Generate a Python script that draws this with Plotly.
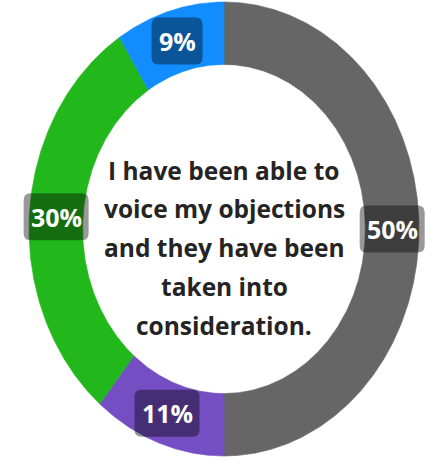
import numpy as np
import plotly.graph_objects as go

# Survey response shares, drawn clockwise from 12 o'clock
segments = ["Neutral", "Disagree", "Agree", "Not sure"]
values = [50, 11, 30, 9]
colors = ["#666666", "#744EC2", "#22B81C", "#118DFF"]

question_lines = [
    "I have been able to",
    "voice my objections",
    "and they have been",
    "taken into",
    "consideration.",
]

W, H = 439, 466
HOLE = 0.725          # inner radius as a fraction of the outer radius
LABEL_FONT = "Open Sans, Noto Sans, sans-serif"

fig = go.Figure()

total = float(sum(values))
start = 0.0
ring_mid = (1 + HOLE) / 2
for name, v, c in zip(segments, values, colors):
    sweep = 2 * np.pi * v / total
    t = np.linspace(start, start + sweep, max(12, int(v * 10)))
    xo, yo = np.sin(t), np.cos(t)
    xi, yi = HOLE * np.sin(t[::-1]), HOLE * np.cos(t[::-1])
    xs = np.concatenate([xo, xi, xo[:1]])
    ys = np.concatenate([yo, yi, yo[:1]])
    fig.add_trace(go.Scatter(
        x=xs, y=ys, mode="lines", fill="toself",
        fillcolor=c, line=dict(color=c, width=0.6),
        name=name, hoverinfo="name", showlegend=False,
    ))

    # percentage badge at the middle of the arc
    mid = start + sweep / 2
    lx, ly = ring_mid * np.sin(mid), ring_mid * np.cos(mid)
    label = f"{v}%"
    bw = 51 if len(label) <= 2 else 65
    bh = 47
    r = 7
    a, b = bw / 2, bh / 2
    path = (
        f"M {-a + r},{-b} L {a - r},{-b} Q {a},{-b} {a},{-b + r} "
        f"L {a},{b - r} Q {a},{b} {a - r},{b} L {-a + r},{b} "
        f"Q {-a},{b} {-a},{b - r} L {-a},{-b + r} Q {-a},{-b} {-a + r},{-b} Z"
    )
    fig.add_shape(
        type="path", path=path, xref="x", yref="y",
        xsizemode="pixel", ysizemode="pixel", xanchor=lx, yanchor=ly,
        fillcolor="rgba(0,0,0,0.4)", line=dict(width=0), layer="above",
    )
    fig.add_annotation(
        x=lx, y=ly, xref="x", yref="y", text=f"<b>{label}</b>",
        showarrow=False, xanchor="center", yanchor="middle",
        font=dict(family=LABEL_FONT, size=25, color="white"),
    )
    start += sweep

# centre question, one line per annotation for generous line spacing
first_line_px, line_step_px = 170, 38.8
for i, line in enumerate(question_lines):
    py = first_line_px + i * line_step_px
    fig.add_annotation(
        x=0.5 + (224 - W / 2) / W, y=1 - py / H, xref="paper", yref="paper",
        text=f"<b>{line}</b>", showarrow=False,
        xanchor="center", yanchor="middle",
        font=dict(family=LABEL_FONT, size=24.5, color="#252423"),
    )

# ring centre at (224, 229) px, outer radii 195 px across and 227 px down
cx, cy, rx, ry = 224, 229, 195, 227
fig.update_xaxes(range=[-cx / rx, (W - cx) / rx], visible=False, fixedrange=True)
fig.update_yaxes(range=[(cy - H) / ry, cy / ry], visible=False, fixedrange=True)
fig.update_layout(
    width=W, height=H, autosize=False,
    margin=dict(l=0, r=0, t=0, b=0),
    paper_bgcolor="white", plot_bgcolor="white",
    showlegend=False,
)

fig.write_html("out.html")
